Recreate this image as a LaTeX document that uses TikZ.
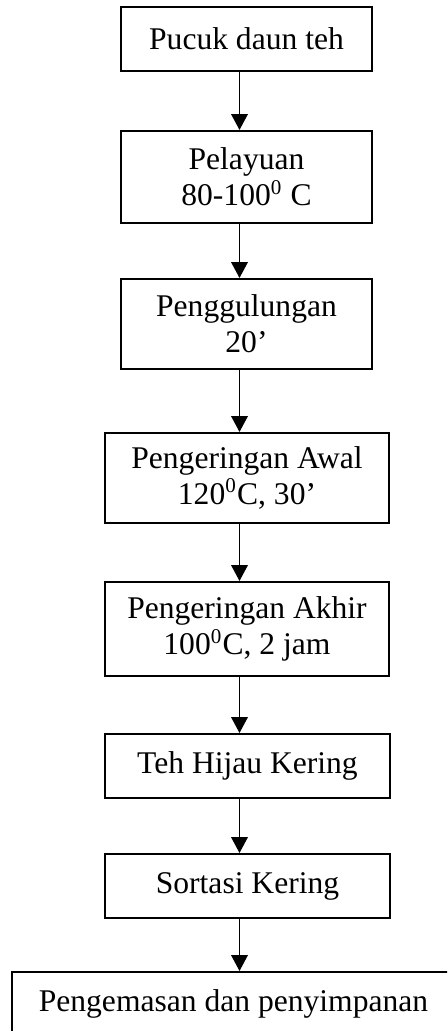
\documentclass[tikz,border=0pt]{standalone}
\usepackage{fontspec}
\setmainfont{Liberation Serif}
\usetikzlibrary{arrows.meta}
\newlength{\upx}
\setlength{\upx}{0.38pt}
\begin{document}
\begin{tikzpicture}[x=0.38pt,y=-0.38pt,
  stepbox/.style={draw,line width=0.75pt,inner sep=0pt,align=center,
    font=\fontsize{12}{13.6}\selectfont},
  arr/.style={line width=0.75pt,-{Triangle[width=6.2pt,length=6pt]}}]
\clip (0,0) rectangle (447,1031);
\fill[white] (0,0) rectangle (447,1031);
\coordinate (ax) at (239.5,0);
\node[stepbox,minimum width=251*\upx,minimum height=64*\upx] (b1) at (246.5,39) {Pucuk daun teh};
\node[stepbox,minimum width=251*\upx,minimum height=92*\upx] (b2) at (246.5,177) {Pelayuan\\80-100\textsuperscript{0} C};
\node[stepbox,minimum width=251*\upx,minimum height=90*\upx] (b3) at (246.5,324) {Penggulungan\\20’};
\node[stepbox,minimum width=284*\upx,minimum height=90*\upx] (b4) at (247,478) {Pengeringan Awal\\120\textsuperscript{0}C, 30’};
\node[stepbox,minimum width=284*\upx,minimum height=94*\upx] (b5) at (247,629) {Pengeringan Akhir\\100\textsuperscript{0}C, 2 jam};
\node[stepbox,minimum width=285*\upx,minimum height=64*\upx] (b6) at (247.5,766) {Teh Hijau Kering};
\node[stepbox,minimum width=285*\upx,minimum height=64*\upx] (b7) at (247.5,886) {Sortasi Kering};
\node[stepbox,minimum width=443*\upx,minimum height=64*\upx] (b8) at (233.5,1004) {Pengemasan dan penyimpanan};
\foreach \a/\b in {b1/b2,b2/b3,b3/b4,b4/b5,b5/b6,b6/b7,b7/b8}
  \draw[arr] (\a.south -| ax) -- (\b.north -| ax);
\end{tikzpicture}
\end{document}
